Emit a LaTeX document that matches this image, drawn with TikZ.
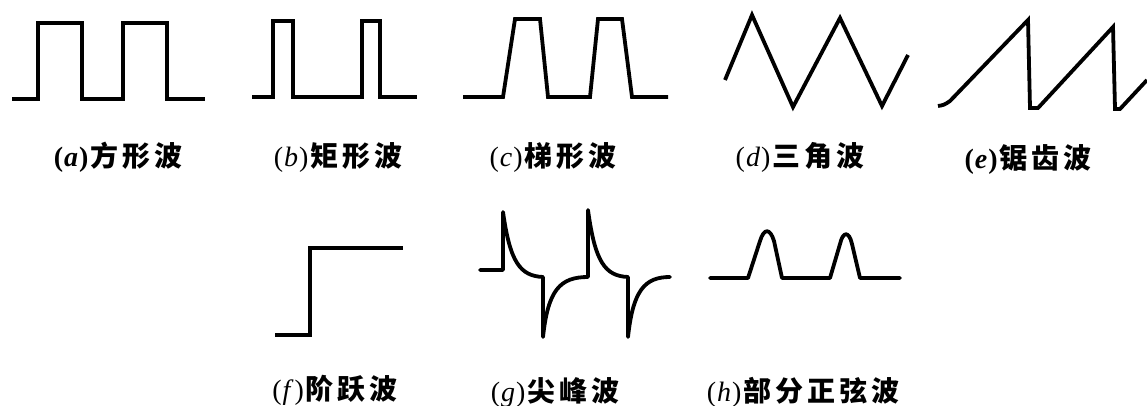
\documentclass[tikz,border=0pt]{standalone}
\usepackage{fontspec}
\setmainfont{Liberation Serif}
\newfontfamily\cjk{Noto Sans CJK SC}[LetterSpace=14]
\usepackage{tikz}
\usetikzlibrary{positioning}

\begin{document}
\begin{tikzpicture}[x=1pt,y=-1pt,
  wave/.style={line width=3.8pt,line join=miter},
  soft/.style={line width=3.8pt,line join=round,line cap=round},
  lab/.style={inner sep=0pt,font=\fontsize{28}{30}\selectfont}]
\useasboundingbox (0,0) rectangle (1147,406);
% (a) square wave
\draw[wave] (12,99) -- (38,99) -- (38,23) -- (82,23) -- (82,99) -- (123,99)
  -- (123,23) -- (167,23) -- (167,99) -- (205,99);
\node[lab] (la) at (118,157) {\bfseries(\kern1pt\textit{a}\kern1pt)\kern2pt{\cjk 方形波}};
% (b) rectangular wave
\draw[wave] (252,97) -- (273,97) -- (273,21) -- (293,21) -- (293,97) -- (362,97)
  -- (362,21) -- (380,21) -- (380,97) -- (417,97);
\node[lab] (lb) at (338,157) {(\kern1pt\textit{b}\kern1pt)\kern2pt{\bfseries\cjk 矩形波}};
% (c) trapezoid wave
\draw[wave] (463,97) -- (503,97) -- (515,19) -- (540,19) -- (548,97) -- (590,97)
  -- (598,19) -- (622,19) -- (632,97) -- (668,97);
\node[lab] (lc) at (553,157) {(\kern1pt\textit{c}\kern1pt)\kern2pt{\bfseries\cjk 梯形波}};
% (d) triangle wave
\draw[wave] (725,80) -- (752,15) -- (793,107) -- (840,18) -- (882,106) -- (908,55);
\node[lab] (ld) at (800,157) {(\kern1pt\textit{d}\kern1pt)\kern2pt{\bfseries\cjk 三角波}};
% (e) sawtooth wave
\draw[wave] (938,106) .. controls (944,105) .. (950,101) -- (1028,20) -- (1030,108) -- (1038,108)
  -- (1113,27) -- (1115,109) -- (1120,109) -- (1147,80);
\node[lab] (le) at (1028,159) {\bfseries(\kern1pt\textit{e}\kern1pt)\kern2pt{\cjk 锯齿波}};
% (f) step wave
\draw[wave] (275,335) -- (310,335) -- (310,248) -- (403,248);
\node[lab] (lf) at (335,390) {(\kern1pt\textit{f}\kern1pt)\kern2pt{\bfseries\cjk 阶跃波}};
% (g) spike wave
\draw[soft] (480,270) -- (503,270) -- (503,212)
  .. controls (510,262) and (520,276) .. (543,277) -- (543,337)
  .. controls (548,290) and (560,277) .. (588,277) -- (588,210)
  .. controls (595,262) and (605,276) .. (628,277) -- (628,337)
  .. controls (633,290) and (645,277) .. (670,277);
\node[lab] (lg) at (555,392) {(\kern1pt\textit{g}\kern1pt)\kern2pt{\bfseries\cjk 尖峰波}};
% (h) partial sine wave
\draw[soft] (710,278) -- (748,278) -- (760,241)
  .. controls (764,228) and (770,228) .. (774,241) -- (782,278) -- (830,278)
  -- (840,244) .. controls (843,231) and (849,231) .. (852,244) -- (860,278) -- (900,278);
\node[lab] (lh) at (803,392) {(\kern1pt\textit{h}\kern1pt)\kern2pt{\bfseries\cjk 部分正弦波}};
\end{tikzpicture}
\end{document}
